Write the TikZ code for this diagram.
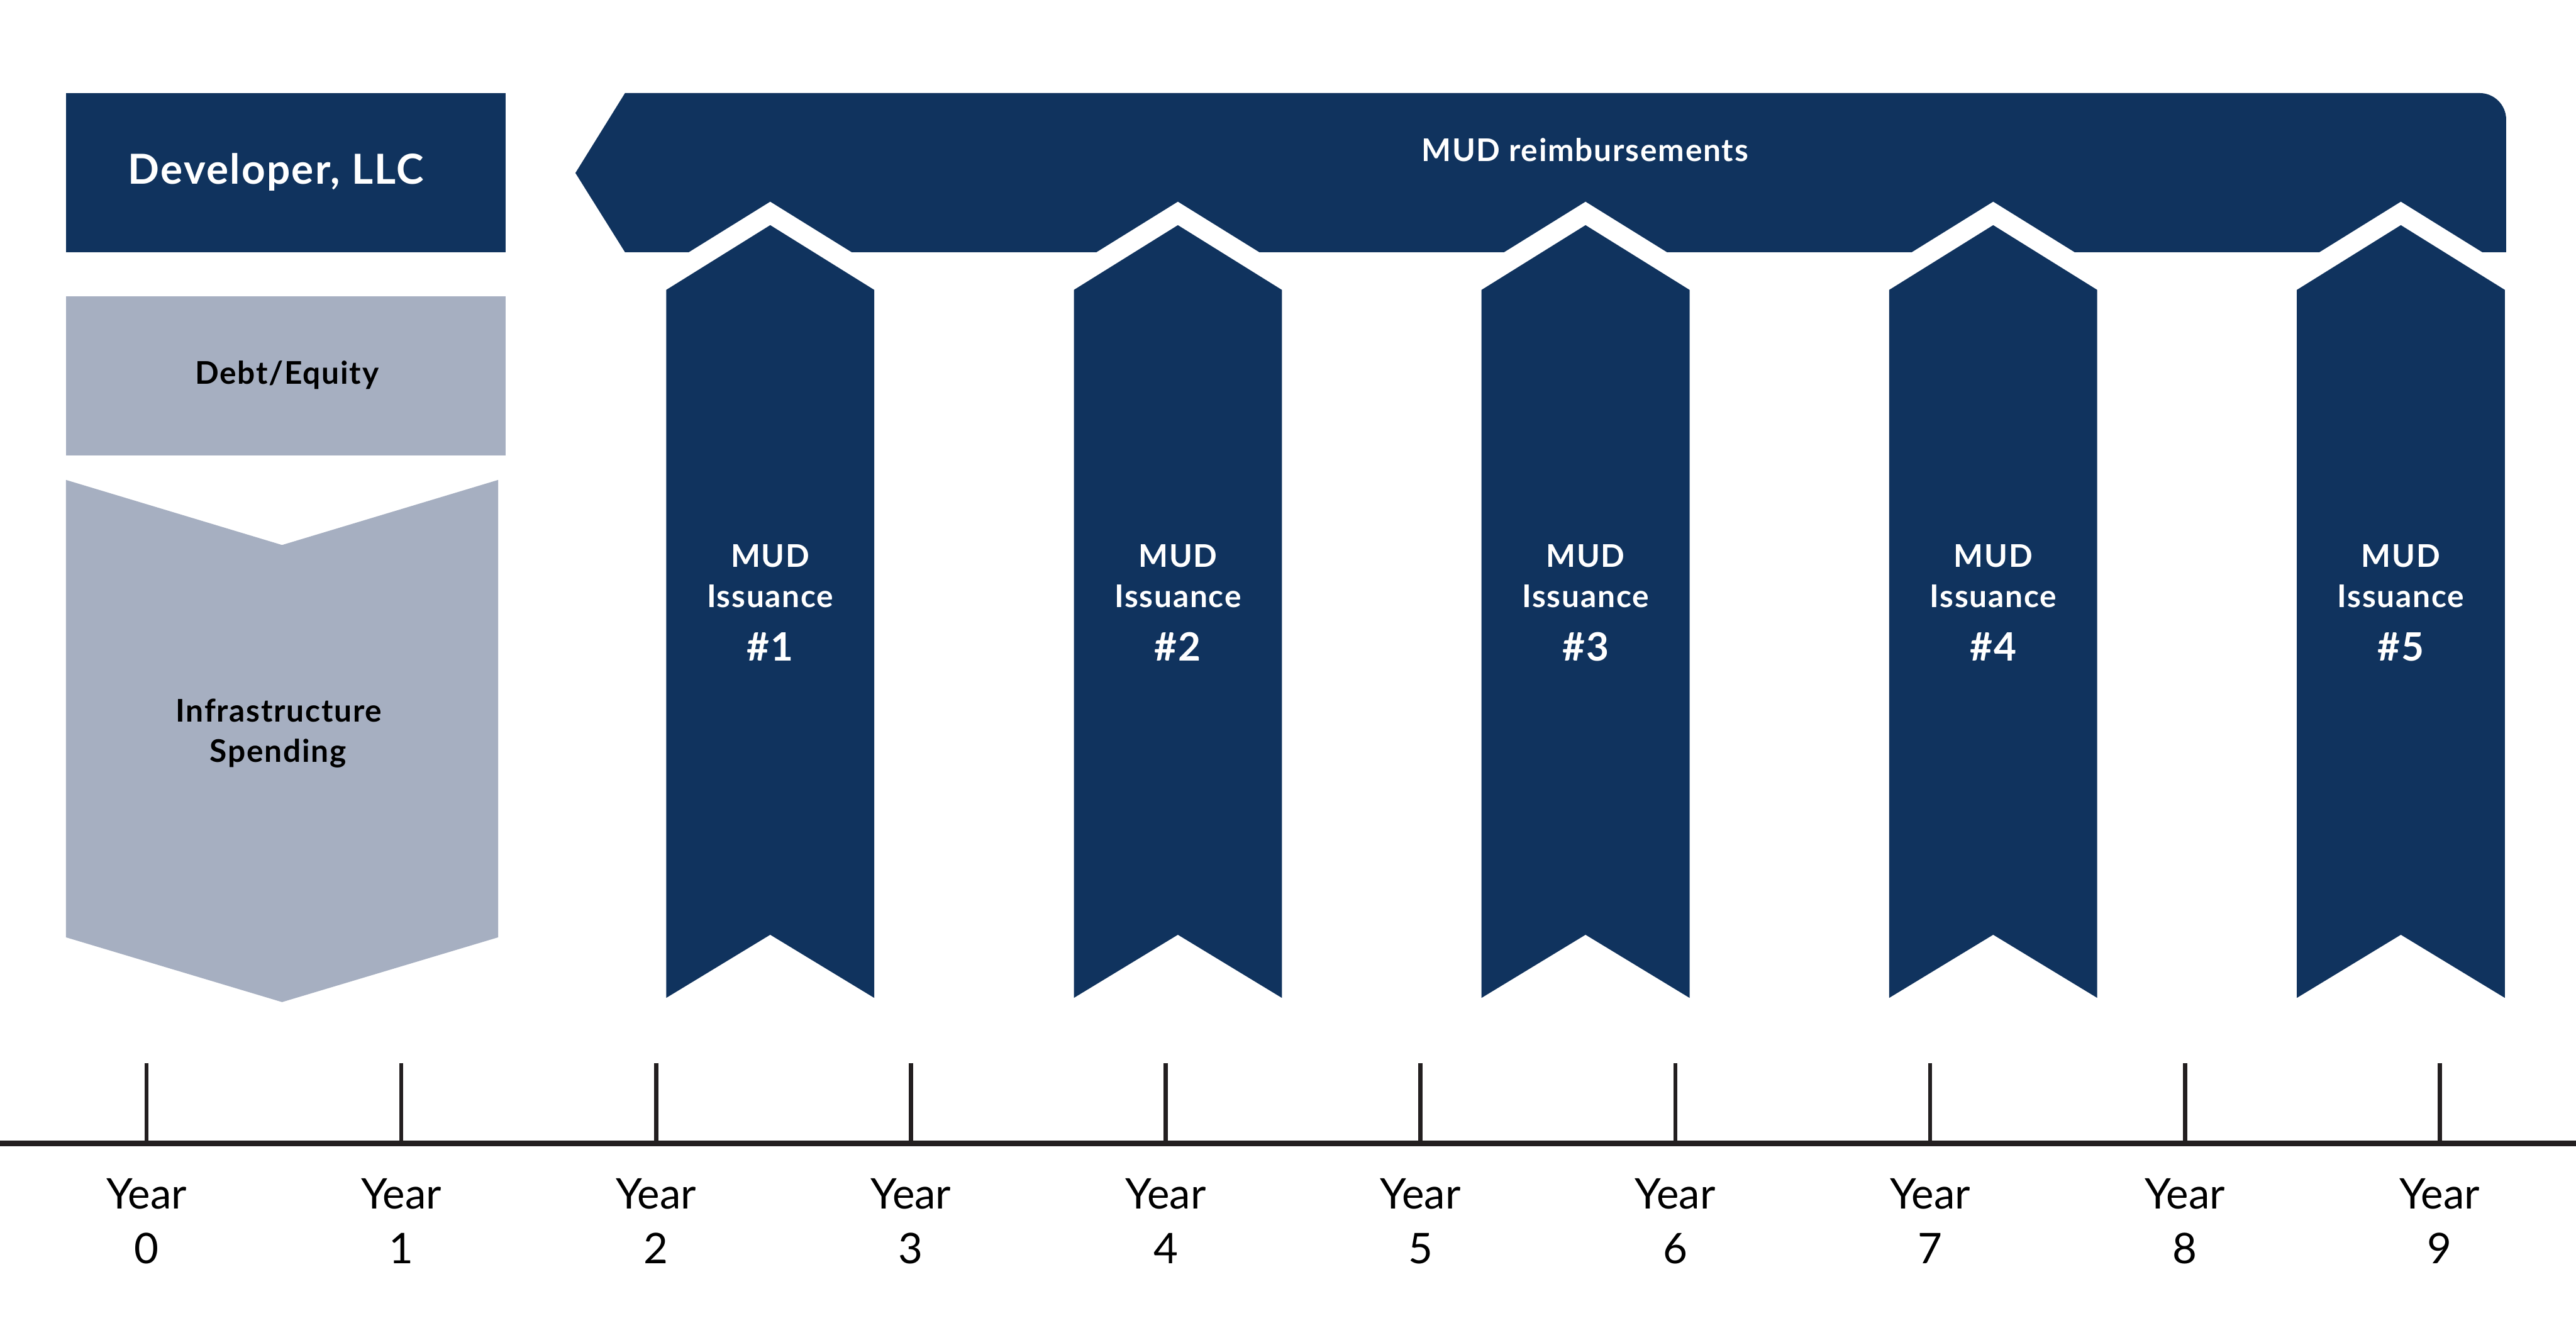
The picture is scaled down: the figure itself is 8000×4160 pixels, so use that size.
\documentclass[tikz,border=0pt]{standalone}
\usepackage{fontspec}
\setmainfont{Lato}[BoldFeatures={LetterSpace=3.5}]
\usepackage{tikz}
\definecolor{mudnavy}{RGB}{16,51,94}
\definecolor{mudgray}{RGB}{166,175,193}
\definecolor{axisgray}{RGB}{35,31,32}
\tikzset{
  boxtext/.style={font=\bfseries\fontsize{27.6}{33}\selectfont,inner sep=0pt,anchor=base},
  yeartext/.style={font=\fontsize{37.3}{44}\selectfont,inner sep=0pt,anchor=base,black}
}

\begin{document}
\begin{tikzpicture}[x=0.01cm,y=-0.01cm]
\useasboundingbox (0,0) rectangle (8000,4160);
\fill[white] (0,0) rectangle (8000,4160);
\fill[mudnavy] (205,289) rectangle (1571,783);
\node[boxtext,white,font=\bfseries\fontsize{36.5}{44}\selectfont] (dev) at (857,572) {Developer, LLC};
\fill[mudgray] (205,919) rectangle (1571,1414);
\node[boxtext] (debt) at (891,1192) {Debt/Equity};
\fill[mudgray] (205,1490) -- (876,1692) -- (1547,1490) -- (1547,2910) -- (876,3111) -- (205,2910) -- cycle;
\node[boxtext] (infra) at (866,2242) {Infrastructure};
\node[boxtext] (spend) at (864,2367) {Spending};
\fill[mudnavy] (1787,537) -- (1941,289) -- (7701,289) .. controls (7746,289) and (7783,326) .. (7783,371) -- (7783,783)
  \foreach \c in {7456,6190,4924,3658,2392} { -- (\c+253,783) -- (\c,626) -- (\c-253,783)} -- (1941,783) -- cycle;
\node[boxtext,white] (reimb) at (4922,500) {MUD reimbursements};
\foreach \i in {1,...,5} {
  \pgfmathsetmacro\c{2392+1266*(\i-1)}
  \fill[mudnavy] (\c-323,3098) -- (\c-323,900) -- (\c,699) -- (\c+323,900) -- (\c+323,3098) -- (\c,2902) -- cycle;
  \node[boxtext,white] (mud\i) at (\c,1761) {MUD};
  \node[boxtext,white] (iss\i) at (\c,1885) {Issuance};
  \node[boxtext,white,font=\bfseries\fontsize{34.5}{40}\selectfont] (num\i) at (\c,2051) {\#\i};
}
\draw[axisgray,line width=4.8pt] (0,3550) -- (8000,3550);
\foreach \y in {0,...,9} {
  \draw[axisgray,line width=3.7pt] (455+791.3*\y,3300) -- (455+791.3*\y,3550);
  \node[yeartext] (yr\y) at (455+791.3*\y,3753) {Year};
  \node[yeartext] (yn\y) at (455+791.3*\y,3922) {\y};
}
\end{tikzpicture}
\end{document}
